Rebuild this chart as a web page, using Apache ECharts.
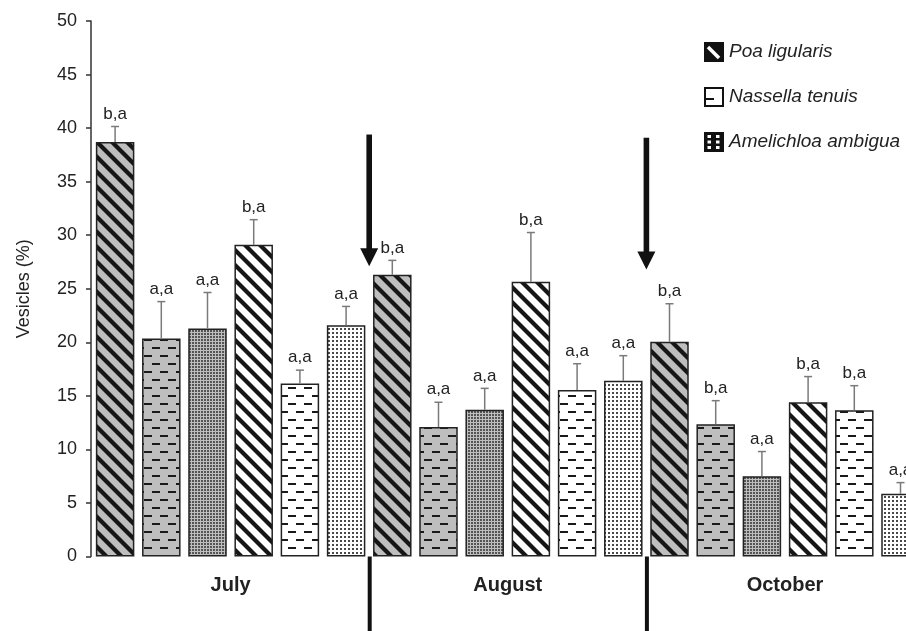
<!DOCTYPE html>
<html>
<head>
<meta charset="utf-8">
<script src="https://cdn.jsdelivr.net/npm/echarts@6/dist/echarts.min.js"></script>
<style>
html,body{margin:0;padding:0;background:#fff;}
#chart{width:906px;height:631px;}
</style>
</head>
<body>
<div id="chart"></div>
<script>
// ---- data ----
const months = ['July', 'August', 'October'];
const species = ['Poa ligularis', 'Nassella tenuis', 'Amelichloa ambigua'];
// within each month: the 3 species on grey bars, then the 3 species on white bars
const julyMeans = [38.7, 20.35, 21.3, 29.1, 16.15, 21.6];
const julyErrors = [1.45, 3.45, 3.35, 2.35, 1.25, 1.75];
const julyLetters = ['b,a', 'a,a', 'a,a', 'b,a', 'a,a', 'a,a'];
const augustMeans = [26.3, 12.1, 13.7, 25.65, 15.55, 16.4];
const augustErrors = [1.35, 2.3, 2.0, 4.6, 2.45, 2.35];
const augustLetters = ['b,a', 'a,a', 'a,a', 'b,a', 'a,a', 'a,a'];
const octoberMeans = [20.05, 12.35, 7.5, 14.4, 13.65, 5.85];
const octoberErrors = [3.55, 2.2, 2.3, 2.4, 2.3, 1.05];
const octoberLetters = ['b,a', 'b,a', 'a,a', 'b,a', 'b,a', 'a,a'];
const yMin = 0, yMax = 50, yStep = 5;
const arrowTops = [39.4, 39.1];
const arrowTips = [27.1, 26.8];

// ---- patterns ----
const FONT = '"Liberation Sans", Arial, Helvetica, sans-serif';
function mk(w, h) { const c = document.createElement('canvas'); c.width = w; c.height = h; return c; }
function stripes(bg) {
  const s = 15, c = mk(s, s), g = c.getContext('2d');
  g.fillStyle = bg; g.fillRect(0, 0, s, s);
  g.strokeStyle = '#161616'; g.lineWidth = 4.2;
  for (const k of [-s, 0, s]) { g.beginPath(); g.moveTo(k - 3, -3); g.lineTo(k + s + 3, s + 3); g.stroke(); }
  return { image: c, repeat: 'repeat' };
}
function dashes(bg) {
  const c = mk(16, 16), g = c.getContext('2d');
  g.fillStyle = bg; g.fillRect(0, 0, 16, 16);
  g.fillStyle = '#1a1a1a'; g.fillRect(0, 3, 8, 2); g.fillRect(8, 11, 8, 2);
  return { image: c, repeat: 'repeat' };
}
function dots(bg, tile, dot, col) {
  const c = mk(tile, tile), g = c.getContext('2d');
  g.fillStyle = bg; g.fillRect(0, 0, tile, tile);
  g.fillStyle = col; g.fillRect(0, 0, dot, dot);
  return { image: c, repeat: 'repeat' };
}
const GREY = '#bebebe';
const styles = [
  [stripes(GREY), dashes(GREY), dots(GREY, 3, 2, '#555')],
  [stripes('#ffffff'), dashes('#ffffff'), dots('#ffffff', 4, 2, '#4a4a4a')]
];

function icon(kind) {
  const S = 40, c = mk(S, S), g = c.getContext('2d');
  g.fillStyle = kind === 1 ? '#fff' : '#111'; g.fillRect(0, 0, S, S);
  if (kind === 0) {
    g.strokeStyle = '#fff'; g.lineWidth = 7;
    g.beginPath(); g.moveTo(8, 10); g.lineTo(30, 32); g.stroke();
  } else if (kind === 1) {
    g.fillStyle = '#111'; g.fillRect(0, 22, 20, 4);
  } else {
    g.fillStyle = '#fff';
    for (const x of [7, 24]) for (const y of [6, 17, 28]) g.fillRect(x, y, 7, 6);
  }
  g.strokeStyle = '#111'; g.lineWidth = 4; g.strokeRect(2, 2, S - 4, S - 4);
  return 'image://' + c.toDataURL();
}

// ---- build ----
const means = [julyMeans, augustMeans, octoberMeans];
const errs = [julyErrors, augustErrors, octoberErrors];
const letters = [julyLetters, augustLetters, octoberLetters];
const cats = [], allLetters = [], errData = [];
const seriesData = [[], [], []];
months.forEach((m, mi) => {
  for (let j = 0; j < 6; j++) {
    const idx = mi * 6 + j;
    cats.push(m + ' ' + (j + 1));
    allLetters.push(letters[mi][j]);
    errData.push([idx, means[mi][j], errs[mi][j]]);
    const sp = j % 3, bgI = j < 3 ? 0 : 1;
    for (let s = 0; s < 3; s++) {
      seriesData[s].push(s === sp ? { value: means[mi][j], itemStyle: { color: styles[bgI][sp] } } : '-');
    }
  }
});

const chart = echarts.init(document.getElementById('chart'));
const barSeries = species.map((name, s) => ({
  name, type: 'bar', data: seriesData[s], barWidth: 38.5, barGap: '-100%',
  itemStyle: { borderColor: '#222', borderWidth: 1.5 },
  emphasis: { disabled: true }, animation: false
}));

chart.setOption({
  animation: false,
  textStyle: { fontFamily: FONT },
  grid: { left: 92, top: 21, width: 831.6, height: 535.5, outerBoundsMode: 'none', containLabel: false },
  legend: {
    orient: 'vertical', left: 704, top: 42, padding: 0, itemGap: 25,
    itemWidth: 20, itemHeight: 20, selectedMode: false,
    textStyle: { fontSize: 19, fontStyle: 'italic', color: '#222', fontFamily: FONT },
    data: species.map((n, i) => ({ name: n, icon: icon(i) }))
  },
  xAxis: [
    { type: 'category', data: cats, axisLine: { show: false }, axisTick: { show: false }, axisLabel: { show: false } },
    { type: 'category', data: months, position: 'bottom', axisLine: { show: false }, axisTick: { show: false },
      axisLabel: { margin: 19, fontSize: 20, fontWeight: 'bold', color: '#222', fontFamily: FONT } }
  ],
  yAxis: {
    type: 'value', min: yMin, max: yMax, interval: yStep, offset: 1,
    name: 'Vesicles (%)', nameLocation: 'middle', nameGap: 58,
    nameTextStyle: { fontSize: 18, color: '#222', fontFamily: FONT },
    axisLine: { show: true, lineStyle: { color: '#333', width: 1.5 } },
    axisTick: { show: true, length: 5, lineStyle: { color: '#333', width: 1.5 } },
    axisLabel: { fontSize: 18, color: '#222', margin: 14, fontFamily: FONT },
    splitLine: { show: false }
  },
  series: barSeries.concat([{
    type: 'custom', data: errData, z: 5, silent: true,
    encode: { x: 0, y: 1 },
    renderItem: (params, api) => {
      const x = api.value(0), m = api.value(1), e = api.value(2);
      const p0 = api.coord([x, m]), p1 = api.coord([x, m + e]);
      const ls = { stroke: '#7a7a7a', lineWidth: 1.5 };
      return { type: 'group', children: [
        { type: 'line', shape: { x1: p0[0], y1: p0[1], x2: p1[0], y2: p1[1] }, style: ls },
        { type: 'line', shape: { x1: p1[0] - 4, y1: p1[1], x2: p1[0] + 4, y2: p1[1] }, style: ls },
        { type: 'text', x: p1[0], y: p1[1] - 4, style: { text: allLetters[params.dataIndex], textAlign: 'center', textVerticalAlign: 'bottom', font: '17px ' + FONT, fill: '#222' } }
      ] };
    }
  }])
});

// separators and arrows placed through the axes' own scales
const y0 = chart.convertToPixel({ yAxisIndex: 0 }, 0);
const H = chart.getHeight();
const graphics = [];
[1, 2].forEach((k, i) => {
  const xa = chart.convertToPixel({ xAxisIndex: 0 }, 6 * k - 1);
  const xb = chart.convertToPixel({ xAxisIndex: 0 }, 6 * k);
  const xm = (xa + xb) / 2;
  graphics.push({ type: 'rect', shape: { x: xm - 1.5, y: y0, width: 4, height: H - y0 }, style: { fill: '#111' } });
  const yt = chart.convertToPixel({ yAxisIndex: 0 }, arrowTops[i]);
  const yp = chart.convertToPixel({ yAxisIndex: 0 }, arrowTips[i]);
  graphics.push({ type: 'rect', shape: { x: xm - 2.8, y: yt, width: 5.6, height: yp - yt - 16 }, style: { fill: '#111' } });
  graphics.push({ type: 'polygon', shape: { points: [[xm - 9, yp - 18], [xm + 9, yp - 18], [xm, yp]] }, style: { fill: '#111' } });
});
chart.setOption({ graphic: graphics });
</script>
</body>
</html>
